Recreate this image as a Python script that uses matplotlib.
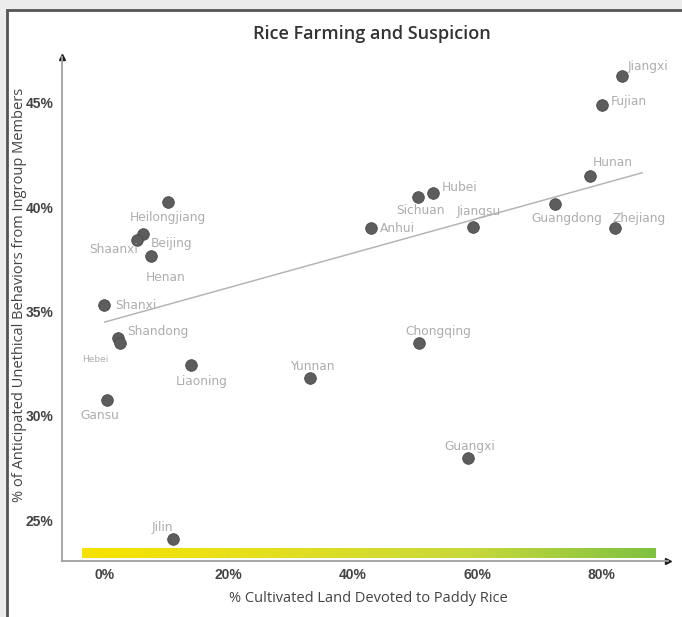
import numpy as np
import matplotlib
matplotlib.use("Agg")
import matplotlib.pyplot as plt
from matplotlib.colors import LinearSegmentedColormap
from matplotlib.patches import Rectangle

# data (% paddy rice, % anticipated unethical behaviour)
provinces = ['Jiangxi', 'Fujian', 'Hunan', 'Guangdong', 'Zhejiang', 'Hubei', 'Sichuan',
             'Anhui', 'Jiangsu', 'Chongqing', 'Guangxi', 'Yunnan', 'Liaoning',
             'Heilongjiang', 'Beijing', 'Shaanxi', 'Henan', 'Shanxi', 'Shandong',
             'Hebei', 'Gansu', 'Jilin']
rice = [83.4, 80.2, 78.2, 72.6, 82.3, 52.9, 50.5, 42.9, 59.4, 50.6, 58.5, 33.1, 13.9,
        10.2, 6.1, 5.2, 7.4, -0.2, 2.1, 2.4, 0.3, 11.0]
suspicion = [46.3, 44.9, 41.5, 40.15, 39.0, 40.7, 40.5, 39.0, 39.05, 33.5, 28.0, 31.8, 32.45,
             40.25, 38.7, 38.45, 37.65, 35.3, 33.75, 33.5, 30.75, 24.1]
trend_x = [0.0, 86.6]
trend_y = [34.5, 41.65]
xticks = [0, 20, 40, 60, 80]
yticks = [25, 30, 35, 40, 45]

# label offsets in pixels (dx, dy up, alignment)
offsets = {
    'Jiangxi': (5, 9, 'left'), 'Fujian': (8, 4, 'left'), 'Hunan': (3, 13, 'left'),
    'Guangdong': (12, -14, 'center'), 'Zhejiang': (-3, 10, 'left'),
    'Hubei': (9, 5, 'left'), 'Sichuan': (2, -14, 'center'), 'Anhui': (9, 0, 'left'),
    'Jiangsu': (5, 16, 'center'), 'Chongqing': (20, 11, 'center'),
    'Guangxi': (2, 11, 'center'), 'Yunnan': (2, 12, 'center'),
    'Liaoning': (11, -17, 'center'), 'Heilongjiang': (0, -15, 'center'),
    'Beijing': (8, -9, 'left'), 'Shaanxi': (1, -10, 'right'),
    'Henan': (15, -21, 'center'), 'Shanxi': (12, 0, 'left'),
    'Shandong': (9, 6, 'left'), 'Hebei': (-24, -17, 'center'),
    'Gansu': (-7, -15, 'center'), 'Jilin': (-11, 12, 'center'),
}

fig = plt.figure(figsize=(6.82, 6.17), dpi=100, facecolor='#ececec')
# white panel with dark frame, behind everything
fig.patches.append(Rectangle((7 / 682, -0.05), 1.05, 1 - 10 / 617 + 0.05,
                             transform=fig.transFigure, facecolor='white',
                             edgecolor='#555555', lw=2, zorder=-5))

ax = fig.add_axes([62 / 682, 1 - 561 / 617, (668 - 62) / 682, (561 - 57) / 617])
ax.set_zorder(2)
ax.set_facecolor('none')
ax.set_xlim(-6.9, 90.8)
ax.set_ylim(23.05, 47.2)

# yellow -> green band along the x axis
cmap = LinearSegmentedColormap.from_list('rice', ['#f7e200', '#e3df1e', '#c9d93a', '#7fc143'])
grad = np.linspace(0, 1, 256).reshape(1, -1)
ax.imshow(grad, cmap=cmap, aspect='auto', extent=(-3.7, 88.7, 23.18, 23.62), zorder=1)

ax.plot(trend_x, trend_y, color='#b5b5b5', lw=1.1, zorder=2)
ax.scatter(rice, suspicion, s=70, color='#5d5d5d', edgecolors='#4a4a4a', lw=0.6, zorder=3)

for name, x, y in zip(provinces, rice, suspicion):
    dx, dy, ha = offsets[name]
    ax.annotate(name, (x, y), xytext=(dx * 0.72, dy * 0.72), textcoords='offset points',
                ha=ha, va='center', color='#adadad', family='DejaVu Sans',
                fontsize=6.5 if name == 'Hebei' else 8.8, zorder=4)

for s in ['top', 'right']:
    ax.spines[s].set_visible(False)
for s in ['left', 'bottom']:
    ax.spines[s].set_color('#a0a0a0')
    ax.spines[s].set_linewidth(1.3)
ax.plot(1, 0, '>', color='#222222', ms=4, transform=ax.transAxes, clip_on=False)
ax.plot(0, 1, '^', color='#222222', ms=4, transform=ax.transAxes, clip_on=False)

ax.set_xticks(xticks)
ax.set_xticklabels([f'{t}%' for t in xticks])
ax.set_yticks(yticks)
ax.set_yticklabels([f'{t}%' for t in yticks])
ax.tick_params(axis='x', length=0, pad=5, labelsize=10, labelcolor='#444444')
ax.tick_params(axis='y', length=0, pad=6, labelsize=10, labelcolor='#444444')
for lab in ax.get_xticklabels() + ax.get_yticklabels():
    lab.set_family('Liberation Sans')
    lab.set_weight('bold')

fig.text(372 / 682, 1 - 34 / 617, 'Rice Farming and Suspicion', ha='center', va='center',
         fontsize=13, family='Open Sans', weight='semibold', color='#333333')
fig.text(368 / 682, 1 - 598 / 617, '% Cultivated Land Devoted to Paddy Rice', ha='center',
         va='center', fontsize=10.5, family='Open Sans', color='#444444')
fig.text(20 / 682, 1 - 295 / 617, '% of Anticipated Unethical Behaviors from Ingroup Members',
         ha='center', va='center', rotation=90, fontsize=10.5, family='Open Sans', color='#444444')

fig.savefig('out.png', dpi=100, facecolor=fig.get_facecolor())
